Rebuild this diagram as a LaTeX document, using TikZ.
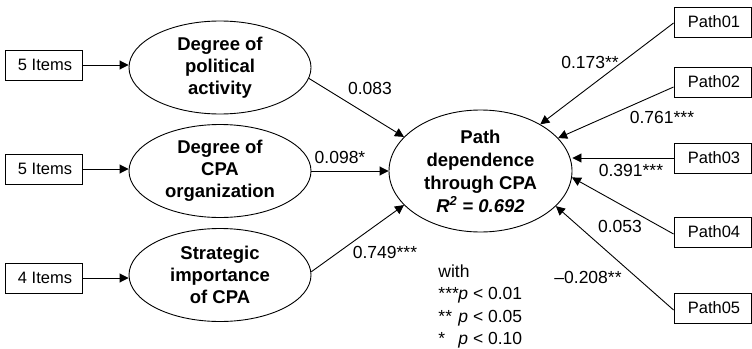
\documentclass[tikz,border=0pt]{standalone}
\usepackage{fontspec}
\setmainfont{Liberation Sans}
\usetikzlibrary{shapes.geometric,arrows.meta}
\newcommand\sigstars[1]{\makebox[20pt][l]{#1}}
\begin{document}
\begin{tikzpicture}[x=1pt,y=-1pt, line width=0.9pt,
  >={Triangle[length=9pt,width=9pt]},
  box/.style={draw, rectangle, minimum width=77pt, minimum height=30pt, inner sep=0pt, font=\fontsize{16.5}{20}\selectfont},
  lat/.style={draw, ellipse, minimum width=182pt, minimum height=93pt, inner sep=0pt, align=center, font=\fontsize{18.5}{22}\selectfont\bfseries},
  lab/.style={font=\fontsize{17.5}{21}\selectfont, inner sep=0pt}]
\useasboundingbox (0,0) rectangle (752,348);
% left indicator boxes
\node[box] (i1) at (43.5,65) {\hspace{3pt}5 Items};
\node[box] (i2) at (43.5,169) {\hspace{3pt}5 Items};
\node[box] (i3) at (43.5,278) {\hspace{3pt}4 Items};
% left latent variables
\node[lat] (e1) at (220,67.5) {Degree of\\political\\activity};
\node[lat] (e2) at (220,171) {Degree of\\CPA\\organization};
\node[lat] (e3) at (220,275) {Strategic\\importance\\of CPA};
% central
\node[lat, minimum width=183pt, minimum height=122pt, font=\fontsize{18.5}{23}\selectfont\bfseries] (c) at (480.5,171) {Path\\dependence\\through CPA\\\textit{R\textsuperscript{2} = 0.692}};
% right boxes
\node[box] (p1) at (712.5,22) {\hspace{3pt}Path01};
\node[box] (p2) at (712.5,82) {\hspace{3pt}Path02};
\node[box] (p3) at (712.5,158) {\hspace{3pt}Path03};
\node[box] (p4) at (712.5,232) {\hspace{3pt}Path04};
\node[box] (p5) at (712.5,308) {\hspace{3pt}Path05};
% arrows left
\draw[->] (i1.east) -- (i1.east -| e1.west);
\draw[->] (i2.east) -- (i2.east -| e2.west);
\draw[->] (i3.east) -- (i3.east -| e3.west);
\draw[->] (e1.-7) -- (c.156);
\draw[->] (e2.east) -- (c.west);
\draw[->] (e3.2) -- (c.204);
% arrows right
\draw[->] ([yshift=-1pt]p1.west) -- (c.38);
\draw[->] ([yshift=-5pt]p2.west) -- (c.23);
\draw[->] (p3.west) -- (p3.west -| c.east);
\draw[->] ([yshift=-2pt]p4.west) -- (c.-4);
\draw[->] ([yshift=-2pt]p5.west) -- (c.-25);
% coefficient labels
\node[lab] (l1) at (370,88) {0.083};
\node[lab] (l2) at (340,157) {0.098*};
\node[lab] (l3) at (385,252) {0.749***};
\node[lab] (r1) at (590,62) {0.173**};
\node[lab] (r2) at (662,117) {0.761***};
\node[lab] (r3) at (631,170) {0.391***};
\node[lab] (r4) at (620,226) {0.053};
\node[lab] (r5) at (588,277) {–0.208**};
% legend
\node[lab, anchor=west] (g0) at (438,271) {with};
\node[lab, anchor=west] (g1) at (438,295) {\sigstars{***}\textit{p} < 0.01};
\node[lab, anchor=west] (g2) at (438,318) {\sigstars{**}\textit{p} < 0.05};
\node[lab, anchor=west] (g3) at (438,340) {\sigstars{*}\textit{p} < 0.10};
\end{tikzpicture}
\end{document}
